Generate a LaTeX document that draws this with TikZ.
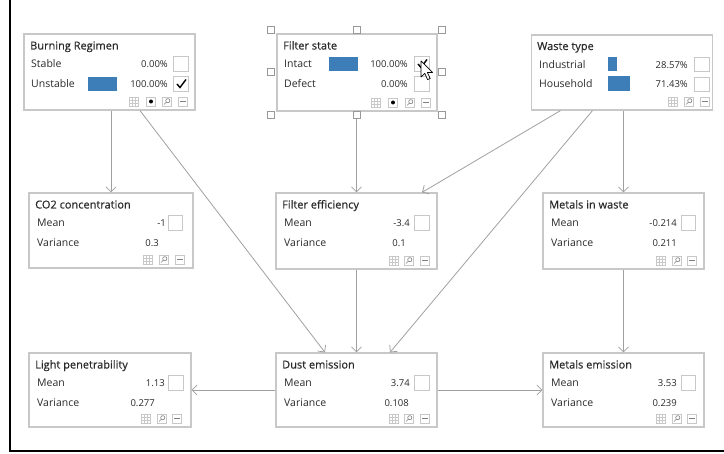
\documentclass[tikz,border=0pt]{standalone}
\usepackage{fontspec}
\setmainfont{Open Sans}
\newfontfamily\ttlfont{Open Sans}[FakeBold=0.5]
\usetikzlibrary{arrows.meta,calc}
\definecolor{barblue}{HTML}{3D7DB8}
\definecolor{boxgray}{HTML}{C8C8C8}
\definecolor{linkgray}{HTML}{A0A0A0}
\definecolor{txtgray}{HTML}{2A2A2A}

\tikzset{
  box/.style={draw=boxgray, line width=1.2pt, fill=white, inner sep=0pt},
  ttl/.style={anchor=base west, inner sep=0pt, font=\ttlfont\fontsize{11}{13}\selectfont, text=txtgray},
  lbl/.style={anchor=base west, inner sep=0pt, font=\fontsize{10.5}{13}\selectfont, text=txtgray},
  val/.style={anchor=base east, inner sep=0pt, font=\fontsize{9.5}{11}\selectfont, text=txtgray},
  chk/.style={draw=boxgray, line width=0.8pt, fill=white, minimum size=14.5pt, inner sep=0pt},
  link/.style={draw=linkgray, line width=0.8pt, -{Straight Barb[length=5pt,width=10pt]}},
  handle/.style={draw=gray!80, fill=white, line width=0.7pt, minimum size=7.5pt, inner sep=0pt},
  icon frame/.style={draw=boxgray, line width=0.6pt},
  gridicon/.pic={
    \draw[icon frame] (-4.5,-4.5) rectangle (4.5,4.5);
    \draw[boxgray, line width=0.4pt] (-1.5,-4.5) -- (-1.5,4.5) (1.5,-4.5) -- (1.5,4.5)
      (-4.5,-1.5) -- (4.5,-1.5) (-4.5,1.5) -- (4.5,1.5);
  },
  doticon/.pic={
    \draw[icon frame] (-4.5,-4.5) rectangle (4.5,4.5);
    \fill[black] (0,0) circle (2pt);
  },
  magicon/.pic={
    \draw[icon frame] (-4.5,-4.5) rectangle (4.5,4.5);
    \draw[gray, line width=0.6pt] (0.8,-0.8) circle (2.1pt) (-0.7,0.7) -- (-3,3);
  },
  minicon/.pic={
    \draw[icon frame] (-4.5,-4.5) rectangle (4.5,4.5);
    \draw[gray, line width=0.6pt] (-3,0) -- (3,0);
  }
}

\begin{document}
\begin{tikzpicture}[x=1pt, y=-1pt]
  \useasboundingbox (0,0) rectangle (724,454);
  % frame
  \draw[line width=2pt] (10,0) -- (10,451) -- (724,451);

  % Burning Regimen
  \node[box, minimum width=171pt, minimum height=76pt] (br) at (109.5,72) {};
  \node[ttl] (brt) at (30,49.5) {Burning Regimen};
  \node[lbl] (br1) at (31,68) {Stable};
  \node[lbl] (br2) at (31,87.5) {Unstable};
  \fill[barblue] (88,77) rectangle (117,91);
  \node[val] (br1v) at (168,68) {0.00\%};
  \node[val] (br2v) at (168,87.5) {100.00\%};
  \node[chk] (br1c) at (181,64) {};
  \node[chk] (br2c) at (181,84) {};
  \draw[line width=1.4pt] (177,84) -- (180,87.5) -- (186,79.5);
  \pic at (134,101.5) {gridicon};
  \pic at (151,101.5) {doticon};
  \pic at (167,101.5) {magicon};
  \pic at (183,101.5) {minicon};

  % Filter state
  \node[box, minimum width=160pt, minimum height=77pt] (fs) at (357,72.5) {};
  \node[ttl] (fst) at (283,49.5) {Filter state};
  \node[lbl] (fs1) at (284,68) {Intact};
  \node[lbl] (fs2) at (284,87.5) {Defect};
  \fill[barblue] (329,57) rectangle (358,71);
  \node[val] (fs1v) at (408,68) {100.00\%};
  \node[val] (fs2v) at (408,87.5) {0.00\%};
  \node[chk] (fs1c) at (422,64) {};
  \node[chk] (fs2c) at (422,84) {};
  \draw[line width=1.4pt] (418,64) -- (421,67.5) -- (427,59.5);
  \pic at (376,102.5) {gridicon};
  \pic at (393,102.5) {doticon};
  \pic at (410,102.5) {magicon};
  \pic at (426,102.5) {minicon};

  % Waste type
  \node[box, minimum width=181pt, minimum height=75pt] (wt) at (622,72.5) {};
  \node[ttl] (wtt) at (537,50) {Waste type};
  \node[lbl] (wt1) at (539,68.5) {Industrial};
  \node[lbl] (wt2) at (539,88) {Household};
  \fill[barblue] (608,57) rectangle (617,71);
  \fill[barblue] (608,76) rectangle (630,91);
  \node[val] (wt1v) at (688,68.5) {28.57\%};
  \node[val] (wt2v) at (688,88) {71.43\%};
  \node[chk] (wt1c) at (702,64.5) {};
  \node[chk] (wt2c) at (702,84.5) {};
  \pic at (673,101.5) {gridicon};
  \pic at (689,101.5) {magicon};
  \pic at (705,101.5) {minicon};

  % CO2 concentration
  \node[box, minimum width=164pt, minimum height=75pt] (co) at (111,230.5) {};
  \node[ttl] (cot) at (35,208.5) {CO2 concentration};
  \node[lbl] (co1) at (37,227) {Mean};
  \node[lbl] (co2) at (37,246.5) {Variance};
  \node[val] (co1v) at (166,227) {-1};
  \node[val] (co2v) at (159,246.5) {0.3};
  \node[chk] (co1c) at (175.5,223) {};
  \pic at (148,259.5) {gridicon};
  \pic at (164,259.5) {magicon};
  \pic at (180,259.5) {minicon};

  % Filter efficiency
  \node[box, minimum width=161pt, minimum height=76pt] (fe) at (356.5,231) {};
  \node[ttl] (fet) at (282,208.5) {Filter efficiency};
  \node[lbl] (fe1) at (284,227) {Mean};
  \node[lbl] (fe2) at (284,246.5) {Variance};
  \node[val] (fe1v) at (410,227) {-3.4};
  \node[val] (fe2v) at (406,246.5) {0.1};
  \node[chk] (fe1c) at (422,223) {};
  \pic at (394,260.5) {gridicon};
  \pic at (409,260.5) {magicon};
  \pic at (425,260.5) {minicon};

  % Metals in waste
  \node[box, minimum width=161pt, minimum height=76pt] (mw) at (623.5,231) {};
  \node[ttl] (mwt) at (549,208.5) {Metals in waste};
  \node[lbl] (mw1) at (551,227) {Mean};
  \node[lbl] (mw2) at (551,246.5) {Variance};
  \node[val] (mw1v) at (677,227) {-0.214};
  \node[val] (mw2v) at (677,246.5) {0.211};
  \node[chk] (mw1c) at (688.5,223) {};
  \pic at (661,260.5) {gridicon};
  \pic at (677,260.5) {magicon};
  \pic at (692,260.5) {minicon};

  % Light penetrability
  \node[box, minimum width=162pt, minimum height=74pt] (lp) at (110,390) {};
  \node[ttl] (lpt) at (35,368.5) {Light penetrability};
  \node[lbl] (lp1) at (37,387) {Mean};
  \node[lbl] (lp2) at (37,406.5) {Variance};
  \node[val] (lp1v) at (165,387) {1.13};
  \node[val] (lp2v) at (155,406.5) {0.277};
  \node[chk] (lp1c) at (176,383) {};
  \pic at (146,418.5) {gridicon};
  \pic at (162,418.5) {magicon};
  \pic at (177,418.5) {minicon};

  % Dust emission
  \node[box, minimum width=161pt, minimum height=74pt] (de) at (356.5,390) {};
  \node[ttl] (det) at (282,368.5) {Dust emission};
  \node[lbl] (de1) at (284,387) {Mean};
  \node[lbl] (de2) at (284,406.5) {Variance};
  \node[val] (de1v) at (410,387) {3.74};
  \node[val] (de2v) at (409,406.5) {0.108};
  \node[chk] (de1c) at (422,383) {};
  \pic at (394,418.5) {gridicon};
  \pic at (409,418.5) {magicon};
  \pic at (425,418.5) {minicon};

  % Metals emission
  \node[box, minimum width=161pt, minimum height=74pt] (me) at (623.5,390) {};
  \node[ttl] (met) at (549,368.5) {Metals emission};
  \node[lbl] (me1) at (551,387) {Mean};
  \node[lbl] (me2) at (551,406.5) {Variance};
  \node[val] (me1v) at (677,387) {3.53};
  \node[val] (me2v) at (677,406.5) {0.239};
  \node[chk] (me1c) at (688.5,383) {};
  \pic at (661,418.5) {gridicon};
  \pic at (677,418.5) {magicon};
  \pic at (692,418.5) {minicon};

  % links
  \draw[link] (co.north |- br.south) -- (co.north);
  \draw[link] ([xshift=30.5pt]br.south) -- ([xshift=-31.5pt]de.north);
  \draw[link] (fe.north |- fs.south) -- (fe.north);
  \draw[link] ([xshift=-61.5pt]wt.south) -- ([xshift=65.5pt]fe.north);
  \draw[link] ([xshift=-29.5pt]wt.south) -- ([xshift=33.5pt]de.north);
  \draw[link] (mw.north |- wt.south) -- (mw.north);
  \draw[link] (fe.south) -- (de.north);
  \draw[link] (mw.south) -- (me.north);
  \draw[link] (de.west) -- (lp.east);
  \draw[link] (de.east) -- (me.west);

  % selection handles
  \node[handle] (h1) at (271,30) {};
  \node[handle] (h2) at (357,30) {};
  \node[handle] (h3) at (442,30) {};
  \node[handle] (h4) at (271,72) {};
  \node[handle] (h5) at (442,72) {};
  \node[handle] (h6) at (271,115) {};
  \node[handle] (h7) at (357,115) {};
  \node[handle] (h8) at (442,115) {};

  % mouse pointer
  \filldraw[fill=white, draw=black, line width=0.7pt, line join=round]
    (421,61) -- ++(0,16) -- ++(3.8,-3.6) -- ++(2.8,6.2) -- ++(2.6,-1.1)
    -- ++(-2.8,-6) -- ++(5.2,0) -- cycle;
\end{tikzpicture}
\end{document}
